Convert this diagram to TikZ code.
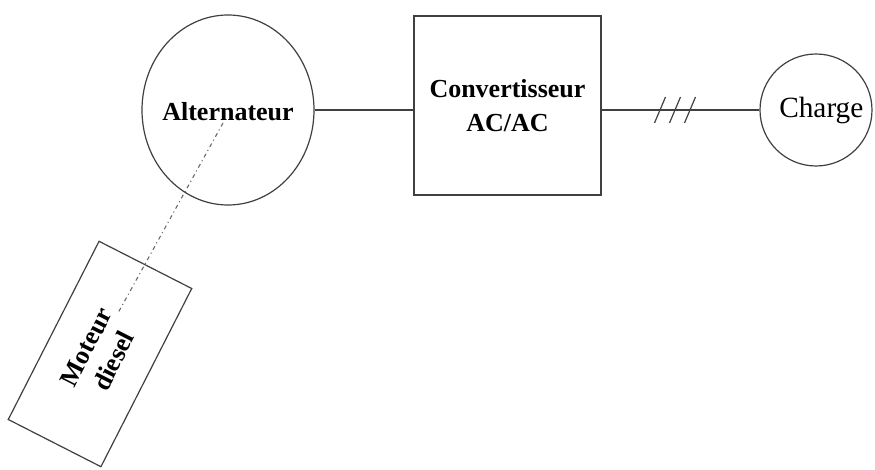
\documentclass[tikz,border=0pt]{standalone}
\usepackage{fontspec}
\setmainfont{Liberation Serif}
\usetikzlibrary{shapes.geometric}
\definecolor{ln}{HTML}{404040}
\tikzset{
  every picture/.style={x=0.75pt,y=-0.75pt},
  wire/.style={draw=ln,line width=0.9pt},
  blk/.style={draw=ln,line width=0.9pt,fill=white,inner sep=0pt,align=center,
    font=\fontsize{19.5}{26}\selectfont\bfseries},
  shaft/.style={draw=ln!80,line width=0.8pt,dash pattern=on 3pt off 2.5pt on 0.8pt off 2.5pt}
}
\begin{document}
\begin{tikzpicture}
\useasboundingbox (0,0) rectangle (875,470);
\node[blk,ellipse,minimum width=129pt,minimum height=142.5pt,
  label={[font=\fontsize{19.5}{26}\selectfont\bfseries,yshift=-1.5pt]center:Alternateur}] (alt) at (228,110) {};
\node[blk,rectangle,minimum width=140.25pt,minimum height=134.25pt] (conv) at (507.5,105.5) {Convertisseur\\AC/AC};
\node[blk,circle,minimum size=84pt,font=\fontsize{22}{26}\selectfont] (charge) at (816,110) {\hspace*{8pt}Charge};
\node[blk,rectangle,minimum width=150pt,minimum height=78pt,rotate=63,
  font=\fontsize{19.5}{23}\selectfont\bfseries] (mot) at (100,354) {Moteur\\diesel};
\coordinate (s1) at (223,123);
\coordinate (s2) at (118,313);
\draw[shaft] (s1) -- (s2);
\draw[wire] (alt.east |- 0,110) -- (conv.west |- 0,110);
\draw[wire] (conv.east |- 0,110) -- (charge.west);
\foreach \xx in {660,675,690}
  \draw[wire] (\xx-5.5,123) -- (\xx+5.5,97);
\end{tikzpicture}
\end{document}
